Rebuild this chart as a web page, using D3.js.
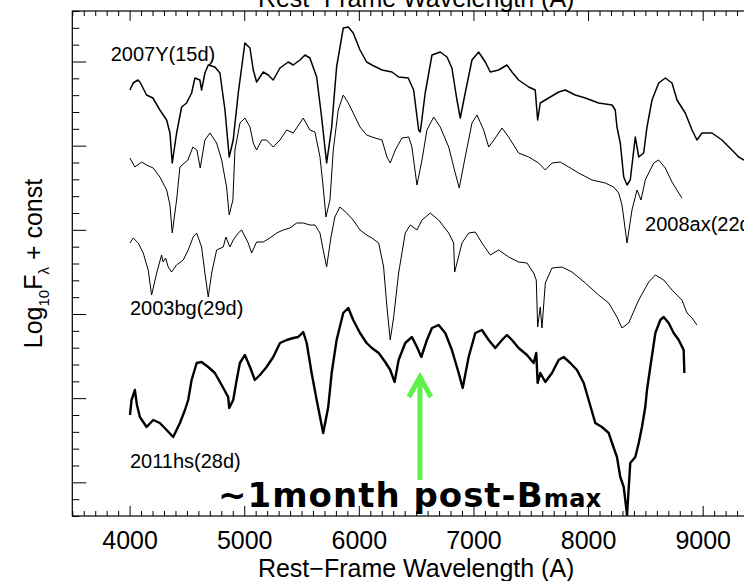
<!DOCTYPE html>
<html>
<head>
<meta charset="utf-8">
<script src="https://cdn.jsdelivr.net/npm/d3@7"></script>
<style>
  body { margin: 0; background: #fff; }
  svg { display: block; }
  text { font-family: "Liberation Sans", Arial, sans-serif; fill: #000; }
  text.note { font-family: "DejaVu Sans", sans-serif; font-weight: bold; }
</style>
</head>
<body>
<svg id="chart" width="744" height="581"></svg>
<script>
// spectra: [rest wavelength (A), log10 F + const]
const sn2007Y = [[4003,4.26],[4031,4.33],[4072,4.36],[4090,4.34],[4148,4.21],[4203,4.18],[4264,4.06],[4323,3.96],[4352,3.83],[4372,3.53],[4410,3.83],[4454,4.09],[4497,4.13],[4541,4.23],[4570,4.38],[4613,4.36],[4628,4.26],[4657,4.43],[4686,4.51],[4744,4.49],[4788,4.43],[4832,4.06],[4869,3.59],[4904,3.76],[4948,4.23],[5006,4.73],[5050,4.68],[5079,4.46],[5108,4.34],[5166,4.44],[5209,4.41],[5253,4.36],[5312,4.48],[5384,4.54],[5428,4.51],[5486,4.56],[5530,4.61],[5573,4.58],[5632,4.39],[5675,3.99],[5719,3.53],[5763,3.89],[5806,4.49],[5864,4.88],[5908,4.89],[5951,4.83],[6010,4.66],[6068,4.54],[6114,4.51],[6202,4.46],[6289,4.44],[6347,4.39],[6431,4.38],[6478,4.26],[6522,3.86],[6536,3.84],[6579,4.23],[6638,4.61],[6710,4.64],[6769,4.59],[6812,4.48],[6856,4.16],[6885,3.98],[6928,4.23],[6987,4.56],[7045,4.64],[7103,4.54],[7147,4.44],[7220,4.46],[7292,4.51],[7336,4.44],[7394,4.36],[7482,4.29],[7539,4.26],[7560,3.96],[7583,4.13],[7656,4.18],[7743,4.24],[7801,4.26],[7888,4.21],[7976,4.18],[8092,4.13],[8209,4.11],[8237,4.06],[8252,3.89],[8281,3.73],[8311,3.39],[8340,3.31],[8368,3.36],[8412,3.79],[8442,3.59],[8485,3.63],[8514,3.89],[8558,4.16],[8616,4.33],[8674,4.38],[8732,4.33],[8776,4.16],[8848,4.03],[8907,3.86],[8950,3.76],[8994,3.83],[9081,3.83],[9168,3.76],[9255,3.66],[9314,3.59],[9360,3.56]];

const sn2008ax = [[4003,3.58],[4046,3.49],[4105,3.54],[4148,3.51],[4206,3.48],[4264,3.39],[4323,3.26],[4352,3.11],[4372,2.83],[4410,3.16],[4439,3.49],[4509,3.56],[4552,3.69],[4587,3.66],[4616,3.48],[4657,3.76],[4701,3.83],[4759,3.73],[4803,3.56],[4846,3.29],[4869,3.01],[4901,3.16],[4919,3.66],[4963,3.93],[5006,3.98],[5050,3.89],[5079,3.73],[5108,3.66],[5152,3.76],[5195,3.76],[5253,3.69],[5312,3.76],[5370,3.86],[5428,3.83],[5486,3.93],[5515,3.98],[5573,3.86],[5617,3.84],[5661,3.59],[5689,3.29],[5713,2.99],[5748,3.16],[5777,3.66],[5820,4.06],[5864,4.21],[5908,4.13],[5951,4.03],[6010,3.89],[6068,3.81],[6114,3.79],[6202,3.76],[6245,3.59],[6274,3.53],[6318,3.66],[6376,3.78],[6435,3.79],[6463,3.69],[6507,3.31],[6551,3.56],[6594,3.86],[6653,3.99],[6710,3.89],[6784,3.69],[6841,3.43],[6876,3.28],[6928,3.59],[6987,3.93],[7031,4.01],[7089,3.86],[7133,3.69],[7190,3.78],[7249,3.88],[7307,3.79],[7394,3.63],[7482,3.59],[7569,3.53],[7627,3.46],[7685,3.53],[7757,3.54],[7831,3.49],[7918,3.43],[8034,3.36],[8150,3.33],[8223,3.29],[8267,3.23],[8296,3.11],[8340,2.73],[8383,3.06],[8427,3.26],[8462,3.16],[8499,3.36],[8572,3.53],[8616,3.56],[8674,3.48],[8732,3.34],[8791,3.23],[8819,3.18]];

const sn2003bg = [[4003,2.73],[4031,2.78],[4075,2.73],[4119,2.63],[4162,2.46],[4192,2.21],[4236,2.43],[4279,2.61],[4293,2.54],[4314,2.58],[4337,2.49],[4366,2.44],[4410,2.51],[4468,2.56],[4511,2.66],[4555,2.79],[4585,2.83],[4628,2.69],[4657,2.43],[4686,2.19],[4716,2.43],[4759,2.66],[4817,2.69],[4840,2.79],[4875,2.69],[4904,2.76],[4948,2.83],[4977,2.86],[5035,2.73],[5065,2.63],[5108,2.74],[5166,2.74],[5224,2.78],[5283,2.83],[5340,2.86],[5399,2.88],[5457,2.93],[5515,2.93],[5573,2.91],[5617,2.91],[5661,2.83],[5689,2.66],[5719,2.49],[5757,2.79],[5791,2.99],[5835,3.09],[5894,3.03],[5951,2.96],[6010,2.86],[6068,2.81],[6114,2.78],[6173,2.73],[6216,2.49],[6245,2.09],[6274,1.76],[6304,1.99],[6347,2.43],[6405,2.83],[6449,2.91],[6507,2.86],[6551,2.96],[6623,3.03],[6696,2.96],[6784,2.83],[6827,2.73],[6836,2.44],[6856,2.53],[6900,2.73],[6958,2.83],[7016,2.84],[7074,2.73],[7147,2.61],[7220,2.66],[7307,2.59],[7394,2.54],[7467,2.53],[7525,2.43],[7548,2.36],[7560,1.89],[7583,2.09],[7598,1.88],[7627,2.33],[7685,2.48],[7772,2.49],[7860,2.44],[7976,2.33],[8092,2.21],[8180,2.13],[8252,1.99],[8296,1.88],[8354,1.93],[8442,2.16],[8529,2.34],[8587,2.41],[8660,2.36],[8732,2.26],[8819,2.16],[8863,2.03],[8907,1.98],[8950,1.91]];

const sn2011hs = [[4003,1.01],[4017,1.16],[4046,1.26],[4064,1.11],[4090,0.99],[4148,0.89],[4206,0.96],[4264,0.93],[4323,0.86],[4380,0.79],[4439,0.93],[4483,1.06],[4511,1.16],[4541,1.36],[4585,1.53],[4628,1.54],[4686,1.49],[4744,1.43],[4803,1.31],[4860,1.19],[4869,1.08],[4904,1.16],[4934,1.36],[4962,1.53],[5006,1.61],[5050,1.49],[5093,1.36],[5137,1.41],[5195,1.49],[5253,1.59],[5312,1.73],[5370,1.76],[5428,1.78],[5471,1.79],[5515,1.84],[5545,1.73],[5588,1.43],[5632,1.16],[5689,0.83],[5733,1.09],[5763,1.43],[5806,1.76],[5864,2.03],[5908,2.08],[5951,1.96],[6010,1.83],[6068,1.73],[6114,1.68],[6173,1.63],[6230,1.54],[6274,1.46],[6312,1.34],[6347,1.56],[6405,1.73],[6463,1.79],[6507,1.69],[6545,1.59],[6594,1.76],[6638,1.88],[6696,1.91],[6754,1.83],[6812,1.66],[6871,1.43],[6906,1.28],[6958,1.59],[7016,1.83],[7074,1.86],[7133,1.76],[7190,1.68],[7249,1.76],[7292,1.81],[7336,1.76],[7394,1.68],[7467,1.61],[7525,1.53],[7548,1.63],[7560,1.33],[7583,1.43],[7627,1.34],[7685,1.43],[7743,1.56],[7787,1.59],[7845,1.53],[7903,1.46],[7962,1.33],[8005,1.16],[8063,0.93],[8121,0.89],[8180,0.83],[8209,0.73],[8252,0.59],[8281,0.39],[8311,0.29],[8340,0.01],[8368,0.53],[8412,0.59],[8442,0.73],[8470,0.89],[8499,1.09],[8514,1.26],[8543,1.49],[8587,1.83],[8630,1.96],[8660,1.99],[8703,1.93],[8747,1.83],[8791,1.76],[8834,1.66],[8840,1.43]];

const spectrumNames = ["2007Y(15d)", "2008ax(22d)", "2003bg(29d)", "2011hs(28d)"];
// label anchors in data coordinates [wavelength, flux]
const labelAnchors = [[3835, 4.55], [8497, 2.85], [4003, 2.01], [4003, 0.48]];
const xMajorTicks = [4000, 5000, 6000, 7000, 8000, 9000];
const arrowWave = 6533, arrowTop = 1.43, arrowBottom = 0.36;

const W = 744, H = 581;
const plot = { left: 72.3, right: 760, top: 11, bottom: 516 };

const svg = d3.select("#chart");

const x = d3.scaleLinear().domain([3500, 9500]).range([plot.left, plot.right]);
const y = d3.scaleLinear().domain([0, 5.05]).range([plot.bottom, plot.top]);

svg.append("defs").append("clipPath").attr("id", "clip")
  .append("rect")
  .attr("x", plot.left).attr("y", plot.top)
  .attr("width", plot.right - plot.left).attr("height", plot.bottom - plot.top);

// spectra
const spectra = [
  { data: sn2007Y, width: 1.5 },
  { data: sn2008ax, width: 1 },
  { data: sn2003bg, width: 1 },
  { data: sn2011hs, width: 2.4 }
];
const line = d3.line().x(d => x(d[0])).y(d => y(d[1]));

svg.append("g").attr("clip-path", "url(#clip)")
  .selectAll("path")
  .data(spectra)
  .enter()
  .append("path")
    .attr("d", d => line(d.data))
    .attr("fill", "none")
    .attr("stroke", "#000")
    .attr("stroke-width", d => d.width)
    .attr("stroke-linejoin", "round");

// axes: minor ticks every 100 A, majors every 1000 A
const xMinor = d3.range(3500, 9501, 100).filter(v => !xMajorTicks.includes(v));

function styleAxis(g) {
  g.select(".domain").remove();
  g.selectAll("line").attr("stroke", "#000").attr("stroke-width", 1);
}

svg.append("g").attr("transform", `translate(0,${plot.bottom})`)
  .call(d3.axisBottom(x).tickValues(xMinor).tickSize(-5).tickFormat(""))
  .call(styleAxis);
svg.append("g").attr("transform", `translate(0,${plot.bottom})`)
  .call(d3.axisBottom(x).tickValues(xMajorTicks).tickSize(-10).tickPadding(15).tickFormat(d3.format("d")))
  .call(styleAxis)
  .call(g => g.selectAll("text").attr("font-size", 25).attr("fill", "#000"));

svg.append("g").attr("transform", `translate(0,${plot.top})`)
  .call(d3.axisTop(x).tickValues(xMinor).tickSize(-5).tickFormat(""))
  .call(styleAxis);
svg.append("g").attr("transform", `translate(0,${plot.top})`)
  .call(d3.axisTop(x).tickValues(xMajorTicks).tickSize(-10).tickFormat(""))
  .call(styleAxis);

// y axis: 30 minor intervals, every fifth one (offset 2) is major
const yStep = (y.domain()[1] - y.domain()[0]) / 30;
const yTicks = d3.range(0, 31).map(i => ({ v: i * yStep, major: i % 5 === 2 }));
svg.append("g").attr("transform", `translate(${plot.left},0)`)
  .call(d3.axisLeft(y).tickValues(yTicks.filter(t => !t.major).map(t => t.v)).tickSize(-7).tickFormat(""))
  .call(styleAxis);
svg.append("g").attr("transform", `translate(${plot.left},0)`)
  .call(d3.axisLeft(y).tickValues(yTicks.filter(t => t.major).map(t => t.v)).tickSize(-14).tickFormat(""))
  .call(styleAxis);

// frame
svg.append("rect")
  .attr("x", plot.left).attr("y", plot.top)
  .attr("width", plot.right - plot.left).attr("height", plot.bottom - plot.top)
  .attr("fill", "none").attr("stroke", "#000").attr("stroke-width", 1.2);

// axis titles
const midX = (plot.left + plot.right) / 2;
svg.append("text").attr("x", midX).attr("y", 577).attr("text-anchor", "middle")
  .attr("font-size", 25).text("Rest\u2212Frame Wavelength (A)");
svg.append("text").attr("x", midX).attr("y", 7).attr("text-anchor", "middle")
  .attr("font-size", 25).text("Rest\u2212Frame Wavelength (A)");

const yTitle = svg.append("text")
  .attr("transform", `translate(42,${(plot.top + plot.bottom) / 2}) rotate(-90)`)
  .attr("text-anchor", "middle").attr("font-size", 25);
yTitle.append("tspan").text("Log");
yTitle.append("tspan").attr("font-size", 15).attr("dy", 7).text("10");
yTitle.append("tspan").attr("dy", -7).text("F");
yTitle.append("tspan").attr("font-size", 15).attr("dy", 7).text("\u03bb");
yTitle.append("tspan").attr("dy", -7).text(" + const");

// spectrum labels
svg.append("g").selectAll("text")
  .data(spectrumNames)
  .enter()
  .append("text")
    .attr("x", (d, i) => x(labelAnchors[i][0]))
    .attr("y", (d, i) => y(labelAnchors[i][1]))
    .attr("font-size", 20)
    .text(d => d);

// green arrow marking ~1 month
const ax = x(arrowWave), aTop = y(arrowTop), aBot = y(arrowBottom);
const arrow = svg.append("g");
arrow.append("line")
  .attr("x1", ax).attr("x2", ax).attr("y1", aTop + 3).attr("y2", aBot)
  .attr("stroke", "#5ef04b").attr("stroke-width", 5);
arrow.append("path")
  .attr("d", `M${ax - 11},${aTop + 24} L${ax},${aTop + 4} L${ax + 11},${aTop + 24}`)
  .attr("fill", "none").attr("stroke", "#5ef04b").attr("stroke-width", 5)
  .attr("stroke-linejoin", "miter").attr("stroke-linecap", "butt");

// annotation
const note = svg.append("text")
  .attr("class", "note")
  .attr("x", 218).attr("y", 507)
  .attr("font-size", 34)
  .attr("letter-spacing", 1);
note.append("tspan").text("~1month post-B");
note.append("tspan").attr("font-size", 24).attr("letter-spacing", 0.5).text("max");
</script>
</body>
</html>
